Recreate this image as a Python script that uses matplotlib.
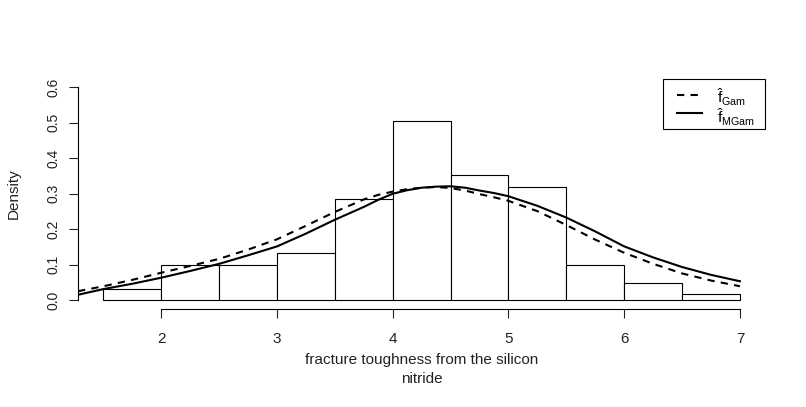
import numpy as np
import matplotlib
matplotlib.use('Agg')
import matplotlib.pyplot as plt
from matplotlib.patches import Rectangle
from matplotlib.lines import Line2D

plt.rcParams['font.family'] = ['Liberation Sans', 'DejaVu Sans']
plt.rcParams['mathtext.fontset'] = 'custom'
plt.rcParams['mathtext.rm'] = 'Liberation Sans'
plt.rcParams['mathtext.it'] = 'Liberation Sans'

# histogram of fracture toughness (counts per 0.5 bin, n = 119)
bin_edges = [1.5, 2.0, 2.5, 3.0, 3.5, 4.0, 4.5, 5.0, 5.5, 6.0, 6.5, 7.0]
counts = [2, 6, 6, 8, 17, 30, 21, 19, 6, 3, 1]

# fitted densities
x_curve = [1.28, 1.5, 1.75, 2.0, 2.25, 2.5, 2.75, 3.0, 3.25, 3.5, 3.75, 3.875,
           4.0, 4.125, 4.25, 4.375, 4.5, 4.625, 4.75, 4.875, 5.0, 5.25, 5.5,
           5.75, 6.0, 6.25, 6.5, 6.75, 7.0]
f_gam = [0.026, 0.040, 0.058, 0.078, 0.097, 0.117, 0.143, 0.172, 0.210, 0.249,
         0.284, 0.297, 0.306, 0.313, 0.317, 0.319, 0.316, 0.309, 0.299, 0.290,
         0.280, 0.251, 0.212, 0.171, 0.134, 0.103, 0.076, 0.056, 0.040]
f_mgam = [0.016, 0.032, 0.047, 0.064, 0.083, 0.103, 0.127, 0.152, 0.188, 0.227,
          0.263, 0.283, 0.300, 0.310, 0.317, 0.320, 0.321, 0.317, 0.309, 0.302,
          0.293, 0.266, 0.233, 0.194, 0.152, 0.121, 0.094, 0.072, 0.054]

x_ticks = [2, 3, 4, 5, 6, 7]
y_ticks = [0.0, 0.1, 0.2, 0.3, 0.4, 0.5, 0.6]

W, H = 806, 407
fig = plt.figure(figsize=(W / 100, H / 100), dpi=100)
ax = fig.add_axes([78 / W, 1 - 309 / H, (765.4 - 78) / W, (309 - 78.5) / H])

n = sum(counts)
widths = np.diff(bin_edges)
density = np.array(counts) / (n * widths)
ax.bar(bin_edges[:-1], density, width=widths, align='edge',
       facecolor='white', edgecolor='black', linewidth=0.8, zorder=1)

ax.plot(x_curve, f_gam, color='black', lw=1.5, linestyle=(0, (3.5, 3)), zorder=3)
ax.plot(x_curve, f_mgam, color='black', lw=1.5, zorder=3)

ax.set_xlim(1.28, 7.22)
ax.set_ylim(-0.024, 0.624)
for s in ['top', 'right']:
    ax.spines[s].set_visible(False)
ax.spines['left'].set_bounds(0, 0.6)
ax.spines['bottom'].set_bounds(2, 7)
ax.spines['left'].set_linewidth(0.8)
ax.spines['bottom'].set_linewidth(0.8)

ax.set_xticks(x_ticks)
ax.set_xticklabels([str(t) for t in x_ticks], fontsize=11)
ax.set_yticks(y_ticks)
ax.set_yticklabels(['%.1f' % t for t in y_ticks], fontsize=10,
                   rotation=90, va='center')
ax.tick_params(axis='x', length=6.5, width=0.8, pad=10, colors='#222222')
ax.tick_params(axis='y', length=6.5, width=0.8, pad=6, colors='#222222')

fig.text(14 / W, 1 - 193.5 / H, 'Density', rotation=90, va='center',
         ha='center', fontsize=11, color='#222222')
fig.text(421.5 / W, 1 - 364.3 / H, 'fracture toughness from the silicon',
         ha='center', va='baseline', fontsize=11, color='#222222')
fig.text(421.5 / W, 1 - 383.3 / H, 'nitride',
         ha='center', va='baseline', fontsize=11, color='#222222')

# legend box (top right, R style)
fig.patches.append(Rectangle((663 / W, 1 - 128.5 / H), (765.4 - 663) / W,
                             (128.5 - 78.5) / H, transform=fig.transFigure,
                             facecolor='white', edgecolor='black', lw=0.8,
                             zorder=5))
fig.lines.append(Line2D([677 / W, 702 / W], [1 - 95 / H, 1 - 95 / H],
                        transform=fig.transFigure, color='black', lw=1.5,
                        linestyle=(0, (3.5, 3)), zorder=6))
fig.lines.append(Line2D([677 / W, 702 / W], [1 - 112.7 / H, 1 - 112.7 / H],
                        transform=fig.transFigure, color='black', lw=1.5,
                        zorder=6))
fig.text(717 / W, 1 - 103.3 / H, r'$\hat{\mathrm{f}}_{\mathrm{Gam}}$',
         va='baseline', ha='left', fontsize=11, zorder=7)
fig.text(717 / W, 1 - 123.3 / H, r'$\hat{\mathrm{f}}_{\mathrm{MGam}}$',
         va='baseline', ha='left', fontsize=11, zorder=7)

fig.savefig('out.png', dpi=100)
